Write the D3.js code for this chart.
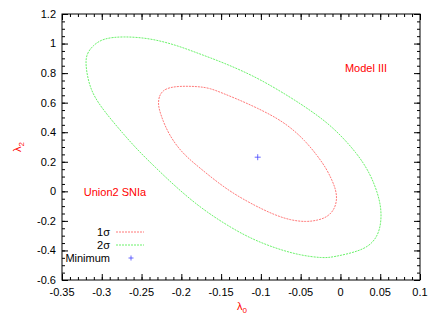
<!DOCTYPE html>
<html>
<head>
<meta charset="utf-8">
<script src="https://cdn.jsdelivr.net/npm/d3@7"></script>
<style>
  body { margin: 0; background: #fff; }
  text { font-family: "Liberation Sans", Arial, sans-serif; }
</style>
</head>
<body>
<svg id="plot"></svg>
<script>
// Contour points (lambda0, lambda2)
const sigma1 = [
  [-0.229, 0.596], [-0.228, 0.644], [-0.223, 0.684], [-0.214, 0.704], [-0.202, 0.711],
  [-0.189, 0.711], [-0.177, 0.708], [-0.164, 0.698], [-0.148, 0.664], [-0.126, 0.616],
  [-0.104, 0.562], [-0.082, 0.502], [-0.063, 0.434], [-0.045, 0.346], [-0.0295, 0.245],
  [-0.018, 0.157], [-0.0106, 0.076], [-0.0056, 0.008], [-0.0043, -0.060], [-0.008, -0.127],
  [-0.017, -0.175], [-0.028, -0.195], [-0.043, -0.208], [-0.063, -0.195], [-0.082, -0.161],
  [-0.101, -0.114], [-0.120, -0.060], [-0.139, 0.001], [-0.158, 0.076], [-0.1765, 0.157],
  [-0.193, 0.231], [-0.2055, 0.305], [-0.2155, 0.387], [-0.223, 0.475], [-0.228, 0.556]
];
const sigma2 = [
  [-0.321, 0.867], [-0.3186, 0.934], [-0.311, 0.988], [-0.298, 1.036], [-0.273, 1.049],
  [-0.239, 1.036], [-0.2055, 0.988], [-0.179, 0.934], [-0.148, 0.873], [-0.105, 0.772],
  [-0.063, 0.637], [-0.038, 0.549], [-0.009, 0.434], [0.021, 0.258], [0.037, 0.123],
  [0.047, -0.012], [0.052, -0.134], [0.050, -0.263], [0.041, -0.350], [0.025, -0.404],
  [-0.009, -0.445], [-0.022, -0.452], [-0.051, -0.433], [-0.082, -0.385], [-0.114, -0.317],
  [-0.145, -0.222], [-0.177, -0.107], [-0.208, 0.035], [-0.233, 0.164], [-0.256, 0.285],
  [-0.277, 0.414], [-0.298, 0.549], [-0.315, 0.684]
];
const minimum = [-0.104, 0.231];

const xTicks = [-0.35, -0.3, -0.25, -0.2, -0.15, -0.1, -0.05, 0, 0.05, 0.1];
const yTicks = [-0.6, -0.4, -0.2, 0, 0.2, 0.4, 0.6, 0.8, 1, 1.2];

const W = 436, H = 327;
const margin = { top: 14, right: 16, bottom: 47, left: 62 };
const width = W - margin.left - margin.right;
const height = H - margin.top - margin.bottom;

const svg = d3.select("#plot")
    .attr("width", W)
    .attr("height", H);

const g = svg.append("g")
    .attr("transform", "translate(" + margin.left + "," + margin.top + ")");

const x = d3.scaleLinear().domain([-0.35, 0.1]).range([0, width]);
const y = d3.scaleLinear().domain([-0.6, 1.2]).range([height, 0]);

// minor tick values
const xMinor = d3.range(0, 46).map(i => -0.35 + i * 0.01);
const yMinor = d3.range(0, 37).map(i => -0.6 + i * 0.05);

// ticks on all four sides, pointing inward
function ticks(axisFn, scale, values, len, transform) {
  g.append("g")
      .attr("transform", transform)
      .call(axisFn(scale).tickValues(values).tickSize(len).tickFormat(""))
      .call(s => s.select(".domain").remove())
      .selectAll("line").attr("stroke", "#000").attr("stroke-width", 1);
}
ticks(d3.axisTop, x, xTicks, 6, "translate(0," + height + ")");
ticks(d3.axisTop, x, xMinor, 3, "translate(0," + height + ")");
ticks(d3.axisBottom, x, xTicks, 6, "translate(0,0)");
ticks(d3.axisBottom, x, xMinor, 3, "translate(0,0)");
ticks(d3.axisRight, y, yTicks, 6, "translate(0,0)");
ticks(d3.axisRight, y, yMinor, 3, "translate(0,0)");
ticks(d3.axisLeft, y, yTicks, 6, "translate(" + width + ",0)");
ticks(d3.axisLeft, y, yMinor, 3, "translate(" + width + ",0)");

// frame
g.append("rect")
    .attr("width", width)
    .attr("height", height)
    .attr("fill", "none")
    .attr("stroke", "#000")
    .attr("stroke-width", 1);

// tick labels
const fmt = d => String(+d.toFixed(2));
g.selectAll(".xl")
    .data(xTicks)
    .enter().append("text")
    .attr("x", d => x(d))
    .attr("y", height + 16)
    .attr("text-anchor", "middle")
    .style("font-size", "11px")
    .text(fmt);

g.selectAll(".yl")
    .data(yTicks)
    .enter().append("text")
    .attr("x", -6)
    .attr("y", d => y(d))
    .attr("dy", "0.35em")
    .attr("text-anchor", "end")
    .style("font-size", "11px")
    .text(fmt);

// contours
const line = d3.line()
    .x(d => x(d[0]))
    .y(d => y(d[1]))
    .curve(d3.curveBasisClosed);

const red = "#ff5555", green = "#44ee44";

g.append("path")
    .datum(sigma2)
    .attr("d", line)
    .attr("fill", "none")
    .attr("stroke", green)
    .attr("stroke-width", 0.8)
    .attr("stroke-dasharray", "2,1");

g.append("path")
    .datum(sigma1)
    .attr("d", line)
    .attr("fill", "none")
    .attr("stroke", red)
    .attr("stroke-width", 0.8)
    .attr("stroke-dasharray", "2,1");

// minimum marker
function plus(px, py, s) {
  g.append("path")
      .attr("d", `M${px - s},${py}H${px + s}M${px},${py - s}V${py + s}`)
      .attr("stroke", "#4444ff")
      .attr("stroke-width", 0.8);
}
plus(x(minimum[0]), y(minimum[1]), 3);

// annotations
g.append("text")
    .attr("x", 304)
    .attr("y", 58)
    .attr("text-anchor", "middle")
    .attr("fill", "#ff0000")
    .style("font-size", "11px")
    .text("Model III");

g.append("text")
    .attr("x", 53)
    .attr("y", 182)
    .attr("text-anchor", "middle")
    .attr("fill", "#ff0000")
    .style("font-size", "11px")
    .text("Union2 SNIa");

// legend
const legend = [
  { label: "1σ", color: red },
  { label: "2σ", color: green }
];
legend.forEach((d, i) => {
  const ly = 218 + i * 13;
  g.append("text")
      .attr("x", 48)
      .attr("y", ly)
      .attr("dy", "0.35em")
      .attr("text-anchor", "end")
      .style("font-size", "11px")
      .text(d.label);
  g.append("line")
      .attr("x1", 54).attr("x2", 82)
      .attr("y1", ly).attr("y2", ly)
      .attr("stroke", d.color)
      .attr("stroke-width", 0.8)
      .attr("stroke-dasharray", "2,1");
});
g.append("text")
    .attr("x", 48)
    .attr("y", 244)
    .attr("dy", "0.35em")
    .attr("text-anchor", "end")
    .style("font-size", "11px")
    .text("Minimum");
plus(69, 244, 2.5);

// axis titles
svg.append("text")
    .attr("transform", "translate(21,147) rotate(-90)")
    .attr("text-anchor", "middle")
    .attr("fill", "#ff0000")
    .style("font-size", "11px")
    .html('λ<tspan dy="3" style="font-size:8px">2</tspan>');

svg.append("text")
    .attr("x", 242)
    .attr("y", 310)
    .attr("text-anchor", "middle")
    .attr("fill", "#ff0000")
    .style("font-size", "11px")
    .html('λ<tspan dy="3" style="font-size:8px">0</tspan>');
</script>
</body>
</html>
